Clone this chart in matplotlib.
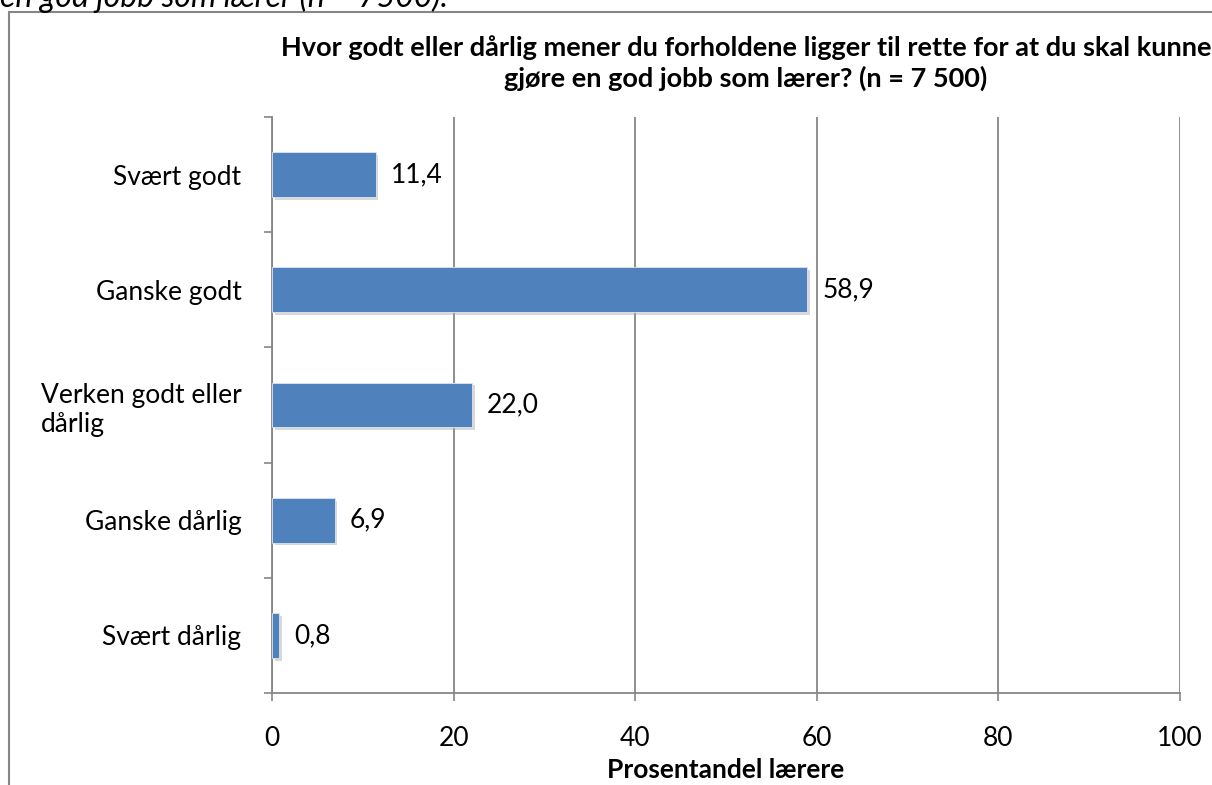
import matplotlib
matplotlib.use("Agg")
import matplotlib.pyplot as plt
import matplotlib.patheffects as pe
from matplotlib.patches import Rectangle

# data
categories = ["Svært godt", "Ganske godt", "Verken godt eller\ndårlig", "Ganske dårlig", "Svært dårlig"]
values = [11.4, 58.9, 22.0, 6.9, 0.8]
value_labels = ["11,4", "58,9", "22,0", "6,9", "0,8"]
x_ticks = [0, 20, 40, 60, 80, 100]

plt.rcParams["font.family"] = ["Lato", "DejaVu Sans"]

grey = "#868686"
bar_color = "#4F81BD"
fs = 19

fig = plt.figure(figsize=(12.12, 7.85), dpi=100)
ax = fig.add_axes([272 / 1212, 1 - 693 / 785, (1180 - 272) / 1212, (693 - 117) / 785])

# ramme rundt diagrammet (kuttet til høyre/nederst)
fig.patches.append(Rectangle((9 / 1212, -0.05), 1.2, 1 - 12 / 785 + 0.05,
                             transform=fig.transFigure, fill=False,
                             edgecolor=grey, linewidth=1.5))

# avkuttet tekst over rammen (som i originalen)
fig.text(0.0, 1 - 7 / 785, "en god jobb som lærer (n = 7500).", fontsize=23,
         style="italic", ha="left", va="baseline")

ypos = list(range(len(categories)))[::-1]
bars = ax.barh(ypos, values, height=0.39, color=bar_color, zorder=3,
               edgecolor="#dfe6f0", linewidth=0.6)
for b in bars:
    b.set_path_effects([pe.SimplePatchShadow(offset=(2, -2), shadow_rgbFace="#aaaaaa", alpha=0.45),
                        pe.Normal()])

for y, v, lab in zip(ypos, values, value_labels):
    ax.annotate(lab, (v, y), xytext=(11, 0), textcoords="offset points",
                ha="left", va="center", fontsize=fs, color="black")

ax.set_xlim(0, 100)
ax.set_ylim(-0.5, len(categories) - 0.5)
ax.set_xticks(x_ticks)
ax.set_xticklabels([str(t) for t in x_ticks], fontsize=fs)
ax.set_yticks(ypos)
ax.set_yticklabels(categories, fontsize=fs)
for lbl in ax.get_yticklabels():
    lbl.set_multialignment("left")
ax.set_yticks([i - 0.5 for i in range(len(categories) + 1)], minor=True)

ax.tick_params(axis="y", which="major", length=0, pad=22)
ax.tick_params(axis="y", which="minor", length=6, width=1.2, color=grey, direction="out")
ax.tick_params(axis="x", which="major", length=6, width=1.2, color=grey, direction="out", pad=18)

ax.grid(True, axis="x", color=grey, linewidth=1.3, zorder=0)
ax.set_axisbelow(True)
for s in ["top", "right"]:
    ax.spines[s].set_visible(False)
for s in ["left", "bottom"]:
    ax.spines[s].set_color(grey)
    ax.spines[s].set_linewidth(1.3)

ax.set_xlabel("Prosentandel lærere", fontsize=fs, fontweight="bold", labelpad=5)

fig.text(746 / 1212, 1 - 63 / 785,
         "Hvor godt eller dårlig mener du forholdene ligger til rette for at du skal kunne\n"
         "gjøre en god jobb som lærer? (n = 7 500)",
         ha="center", va="center", fontsize=19.5, fontweight="bold", linespacing=1.3)

fig.savefig("out.png", dpi=100)
plt.close(fig)
